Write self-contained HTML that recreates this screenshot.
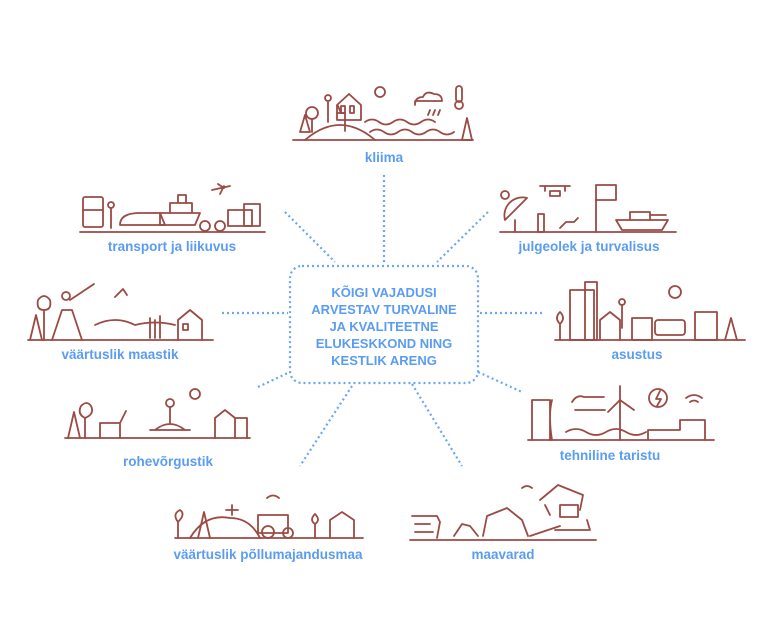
<!DOCTYPE html>
<html><head><meta charset="utf-8"><style>
html,body{margin:0;padding:0;background:#fff;}
svg{display:block}
.lb{font-family:"Liberation Sans",sans-serif;font-weight:bold;font-size:13.5px;fill:#5b9cf3;text-anchor:middle}
.ct{font-family:"Liberation Sans",sans-serif;font-weight:bold;font-size:13px;fill:#5b9cf3;text-anchor:middle}
.d{stroke:#6aa6f5;stroke-width:2.2;stroke-dasharray:2 3;fill:none}
.a{stroke:#9b4a44;stroke-width:1.8;fill:none;stroke-linecap:round;stroke-linejoin:round}
</style></head><body>
<svg width="768" height="644" viewBox="0 0 768 644">
<line class="d" x1="384" y1="175" x2="384" y2="263"/>
<line class="d" x1="285" y1="212" x2="335" y2="262"/>
<line class="d" x1="488" y1="212" x2="437" y2="262"/>
<line class="d" x1="222" y1="313" x2="288" y2="313"/>
<line class="d" x1="480" y1="313" x2="545" y2="313"/>
<line class="d" x1="258" y1="387" x2="290" y2="372"/>
<line class="d" x1="478" y1="372" x2="522" y2="392"/>
<line class="d" x1="352" y1="386" x2="300" y2="466"/>
<line class="d" x1="412" y1="384" x2="462" y2="466"/>
<rect class="d" x="290" y="266" width="188" height="117" rx="12"/>
<text class="ct" x="384" y="297">KÕIGI VAJADUSI</text>
<text class="ct" x="384" y="314">ARVESTAV TURVALINE</text>
<text class="ct" x="384" y="331">JA KVALITEETNE</text>
<text class="ct" x="384" y="348">ELUKESKKOND NING</text>
<text class="ct" x="384" y="365">KESTLIK ARENG</text>

<g class="a">
<line x1="293" y1="140" x2="473" y2="140"/>
<path d="M305 140 Q340 110 375 140"/><path d="M300 132 L305 115 L310 132 Z"/>
<circle cx="312" cy="113" r="6"/><line x1="312" y1="119" x2="312" y2="132"/>
<path d="M337 113 h8 v18 M341 113 l-3 -7"/><circle cx="328" cy="98" r="3"/><line x1="328" y1="101" x2="328" y2="122"/>
<path d="M337 105 l12 -11 l12 11 v15 h-24 z"/><rect x="341" y="106" width="4" height="7"/><rect x="350" y="106" width="4" height="7"/>
<circle cx="380" cy="92" r="5"/>
<path d="M365 122 q7 -5 14 0 t14 0 t14 0 t14 0 t14 0 M370 132 q7 -5 14 0 t14 0 t14 0 t14 0 t14 0 t14 0"/>
<path d="M415 105 q0 -8 8 -8 q3 -7 11 -3 q8 0 8 7 h-27z"/><path d="M430 110 l-2 5 M435 110 l-2 5 M440 110 l-2 5"/>
<rect x="456" y="86" width="6" height="16" rx="3"/><circle cx="459" cy="105" r="4"/>
<path d="M462 140 L467 118 L472 140 Z"/>
</g>
<text class="lb" x="384" y="162">kliima</text>

<g class="a">
<line x1="80" y1="232" x2="265" y2="232"/>
<rect x="83" y="197" width="20" height="30" rx="2"/><line x1="83" y1="210" x2="103" y2="210"/>
<circle cx="111" cy="205" r="3"/><line x1="111" y1="208" x2="111" y2="228"/>
<path d="M120 225 q0 -12 20 -12 h20 l5 12 z"/>
<path d="M160 213 h40 l-5 12 h-35z M170 213 v-10 h22 v10 M178 203 v-8 h8 v8"/>
<path d="M212 190 l18 -4 M220 194 l4 -8 M218 184 l6 4"/>
<circle cx="205" cy="226" r="5"/><circle cx="220" cy="226" r="5"/>
<rect x="228" y="210" width="24" height="16"/><rect x="244" y="204" width="16" height="22"/>
</g>
<text class="lb" x="172" y="251">transport ja liikuvus</text>

<g class="a">
<line x1="500" y1="232" x2="676" y2="232"/>
<path d="M505 220 a18 18 0 0 1 22 -22 z"/><line x1="515" y1="220" x2="515" y2="232"/>
<circle cx="505" cy="195" r="4"/>
<rect x="538" y="214" width="6" height="18"/>
<path d="M540 186 h30 M545 186 v5 M565 186 v5 M550 191 h10 v5 h-10z"/>
<path d="M560 228 l6 -6 h8 l4 -4"/>
<line x1="596" y1="232" x2="596" y2="200"/><rect x="596" y="185" width="20" height="15"/>
<path d="M622 230 h40 l6 -10 h-52z M630 220 v-8 h20 v8 M650 215 h16"/>
</g>
<text class="lb" x="589" y="251">julgeolek ja turvalisus</text>

<g class="a">
<line x1="28" y1="340" x2="213" y2="340"/>
<path d="M30 340 L36 315 L42 340"/><path d="M44 340 v-30 q-8 0 -6 -10 q6 -8 12 0 q2 10 -6 10"/>
<path d="M52 340 l10 -30 h10 l10 30"/><circle cx="66" cy="296" r="4"/><path d="M70 300 l24 -16"/>
<path d="M95 325 q20 -10 40 0 q20 -5 40 0"/>
<path d="M115 297 l8 -8 l4 6"/>
<path d="M150 338 v-20 M155 338 v-18 M160 338 v-22"/>
<path d="M178 340 v-20 l12 -10 l12 10 v20"/><rect x="183" y="324" width="5" height="6"/>
</g>
<text class="lb" x="120" y="359">väärtuslik maastik</text>

<g class="a">
<line x1="555" y1="340" x2="745" y2="340"/>
<path d="M560 340 v-16 q-6 -6 0 -12 q6 6 0 12"/>
<rect x="570" y="290" width="24" height="50"/><rect x="585" y="282" width="12" height="58"/>
<path d="M600 340 v-20 l10 -8 l10 8 v20"/><circle cx="622" cy="302" r="3"/><line x1="622" y1="305" x2="622" y2="328"/>
<rect x="632" y="318" width="20" height="22"/>
<rect x="655" y="320" width="30" height="15" rx="3"/>
<circle cx="675" cy="292" r="6"/>
<rect x="695" y="312" width="22" height="28"/><path d="M725 340 L731 318 L737 340"/>
</g>
<text class="lb" x="637" y="359">asustus</text>

<g class="a">
<line x1="65" y1="438" x2="250" y2="438"/>
<path d="M68 438 L74 412 L80 438"/><path d="M85 438 v-20 q-8 -4 -4 -12 q6 -6 10 0 q4 8 -6 12"/>
<path d="M100 438 v-15 h20 v15 M120 423 l6 -12"/>
<path d="M150 430 h40 M155 430 q15 -12 30 0"/><circle cx="170" cy="403" r="4"/><line x1="170" y1="407" x2="170" y2="423"/>
<circle cx="195" cy="394" r="5"/>
<path d="M215 438 v-20 l10 -8 l10 8 v20 M235 418 h12 v20"/>
</g>
<text class="lb" x="168" y="466">rohevõrgustik</text>

<g class="a">
<line x1="528" y1="440" x2="714" y2="440"/>
<path d="M532 440 v-40 h18 v40 M552 440 q-4 -25 0 -40"/>
<path d="M572 402 q5 -8 12 -5 h20 M575 410 h30"/>
<path d="M620 440 v-40 M620 400 l-12 12 M620 400 l14 10 M620 400 l0 -14"/>
<path d="M566 432 q10 -6 20 0 t20 0 t20 0 t20 0"/>
<circle cx="658" cy="398" r="9"/><path d="M660 391 l-4 8 h5 l-4 7"/>
<path d="M648 440 v-10 h32 v-10 h25 v20"/>
<path d="M686 398 q8 -6 16 0 M690 402 q4 -3 8 0"/>
</g>
<text class="lb" x="610" y="460">tehniline taristu</text>

<g class="a">
<line x1="175" y1="538" x2="363" y2="538"/>
<path d="M178 538 v-16 q-6 -8 2 -12 q6 4 -2 12"/><path d="M190 538 q15 -25 40 -20 q20 0 30 20"/>
<path d="M198 538 L204 512 L210 538"/>
<path d="M232 505 v10 M226 510 h12"/>
<rect x="258" y="515" width="30" height="18"/><circle cx="268" cy="532" r="6"/><circle cx="288" cy="533" r="5"/>
<path d="M267 498 q6 -5 12 0"/>
<path d="M315 538 v-14 q-6 -4 0 -10 q6 6 0 10"/>
<path d="M330 538 v-18 l12 -8 l12 8 v18"/>
</g>
<text class="lb" x="268" y="559">väärtuslik põllumajandusmaa</text>

<g class="a">
<line x1="410" y1="540" x2="596" y2="540"/>
<path d="M412 516 h25 l3 6 l-3 16 M415 524 h15 M415 532 h18"/>
<path d="M454 536 l8 -12 l8 2 l8 10"/>
<path d="M483 536 l4 -20 l20 -8 l15 12 l6 16"/>
<path d="M530 536 l30 -10 M540 500 l18 -15 l25 10 l-3 15 M545 505 l5 10"/>
<rect x="560" y="505" width="18" height="12"/>
<path d="M555 530 h35 l-3 -10"/>
<path d="M522 488 q5 -4 10 0"/>
</g>
<text class="lb" x="503" y="559">maavarad</text>
</svg>
</body></html>
